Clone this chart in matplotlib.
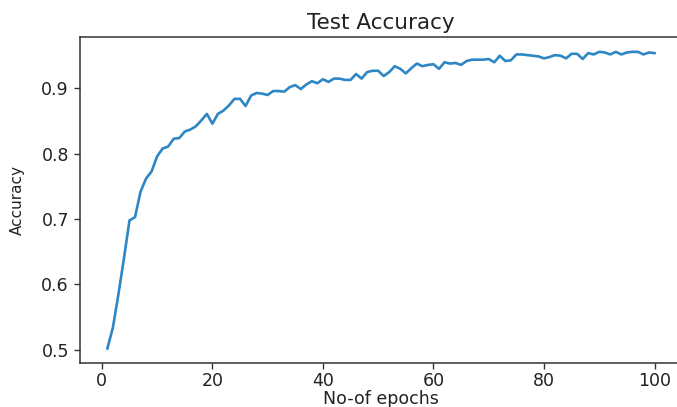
import matplotlib
matplotlib.use('Agg')
import matplotlib.pyplot as plt

# test accuracy per epoch
epochs = list(range(1, 101))
accuracy = [
    0.502, 0.534, 0.585, 0.640, 0.698, 0.703, 0.742, 0.762, 0.773, 0.796,
    0.808, 0.811, 0.823, 0.824, 0.834, 0.837, 0.842, 0.851, 0.861, 0.846,
    0.861, 0.866, 0.874, 0.884, 0.884, 0.873, 0.889, 0.893, 0.892, 0.890,
    0.896, 0.896, 0.895, 0.902, 0.905, 0.899, 0.906, 0.911, 0.908, 0.914,
    0.910, 0.915, 0.915, 0.913, 0.913, 0.922, 0.915, 0.925, 0.927, 0.927,
    0.919, 0.925, 0.934, 0.930, 0.923, 0.931, 0.938, 0.934, 0.936, 0.937,
    0.930, 0.940, 0.938, 0.939, 0.936, 0.942, 0.944, 0.944, 0.944, 0.945,
    0.940, 0.950, 0.942, 0.943, 0.952, 0.952, 0.951, 0.950, 0.949, 0.946,
    0.948, 0.951, 0.950, 0.946, 0.953, 0.953, 0.945, 0.954, 0.952, 0.956,
    0.955, 0.952, 0.956, 0.952, 0.955, 0.956, 0.956, 0.952, 0.955, 0.954,
]

fig = plt.figure(figsize=(6.77, 4.07), dpi=100)
# the reference is a cropped screenshot: the right spine runs off the edge
ax = fig.add_axes([0.1182, 0.1074, 0.889, 0.8017])

ax.plot(epochs, accuracy, color='#2f86c4', linewidth=1.9)

ax.set_title('Test Accuracy', fontsize=15.5, color='#222222', pad=6)
ax.set_xlabel('No-of epochs', fontsize=12.5, color='#222222', labelpad=0)
ax.set_ylabel('Accuracy', fontsize=11, color='#222222', labelpad=12)

ax.set_xticks([0, 20, 40, 60, 80, 100])
ax.set_yticks([0.5, 0.6, 0.7, 0.8, 0.9])
ax.tick_params(labelsize=12.5, labelcolor='#222222', color='#333333',
               length=4.5, width=1.0)
ax.tick_params(axis='x', pad=2)
for spine in ax.spines.values():
    spine.set_color('#333333')
    spine.set_linewidth(1.1)
ax.spines['right'].set_visible(False)

fig.savefig('out.png', dpi=100)
